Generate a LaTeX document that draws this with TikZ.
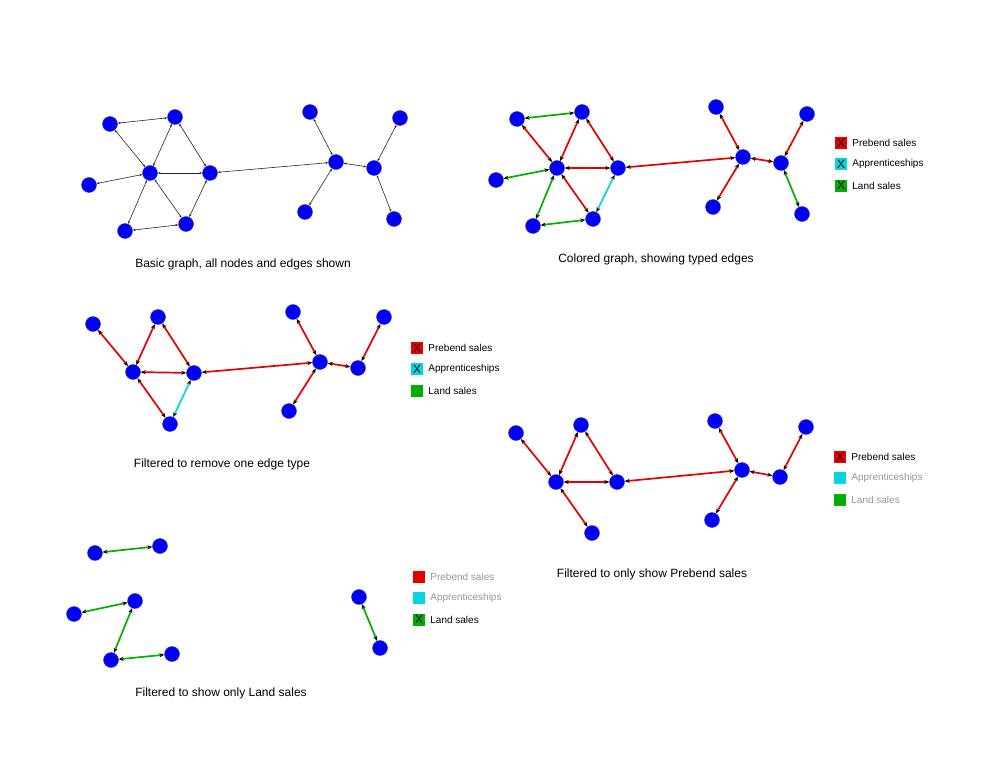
\documentclass[tikz,border=0pt]{standalone}
\usepackage{fontspec}
\setmainfont{Liberation Sans}
\usetikzlibrary{arrows.meta,positioning}
\definecolor{nodeblue}{RGB}{0,0,245}
\definecolor{prebend}{RGB}{230,0,0}
\definecolor{appren}{RGB}{0,215,225}
\definecolor{land}{RGB}{0,175,0}
\definecolor{offtext}{RGB}{150,150,150}

\tikzset{
    vertex/.style={circle, fill=nodeblue, draw=nodeblue!60!gray, line width=0.4pt, minimum size=15pt, inner sep=0pt},
    plainedge/.style={draw=black!85, line width=0.6pt, {Stealth[length=3pt,width=2.2pt]}-{Stealth[length=3pt,width=2.2pt]}},
    typed/.style={line width=1.7pt, {Stealth[length=5pt,width=4pt,color=black]}-{Stealth[length=5pt,width=4pt,color=black]}},
    prebendedge/.style={typed, draw=prebend},
    apprenedge/.style={typed, draw=appren},
    landedge/.style={typed, draw=land},
    legbox/.style={minimum size=12pt, inner sep=0pt, font=\fontsize{12}{12}\selectfont},
    legtext/.style={inner sep=0pt, font=\fontsize{10}{12}\selectfont, right=5pt of #1},
    caption/.style={font=\fontsize{12}{14}\selectfont}
}

\begin{document}
\begin{tikzpicture}[x=1pt, y=-1pt]
    \useasboundingbox (0,0) rectangle (990,765);

    % basic graph
    \node[vertex] (bA) at (110,124) {};
    \node[vertex] (bB) at (175,117) {};
    \node[vertex] (bC) at (150,173) {};
    \node[vertex] (bD) at (89,185) {};
    \node[vertex] (bE) at (210,173) {};
    \node[vertex] (bF) at (186,224) {};
    \node[vertex] (bG) at (125,231) {};
    \node[vertex] (bH) at (336,162) {};
    \node[vertex] (bI) at (310,112) {};
    \node[vertex] (bJ) at (305,212) {};
    \node[vertex] (bK) at (374,168) {};
    \node[vertex] (bL) at (400,118) {};
    \node[vertex] (bM) at (394,219) {};

    \draw[plainedge] (bA) -- (bB);
    \draw[plainedge] (bA) -- (bC);
    \draw[plainedge] (bB) -- (bC);
    \draw[plainedge] (bB) -- (bE);
    \draw[plainedge] (bC) -- (bD);
    \draw[plainedge] (bC) -- (bE);
    \draw[plainedge] (bC) -- (bG);
    \draw[plainedge] (bC) -- (bF);
    \draw[plainedge] (bE) -- (bF);
    \draw[plainedge] (bG) -- (bF);
    \draw[plainedge] (bE) -- (bH);
    \draw[plainedge] (bH) -- (bI);
    \draw[plainedge] (bH) -- (bJ);
    \draw[plainedge] (bH) -- (bK);
    \draw[plainedge] (bK) -- (bL);
    \draw[plainedge] (bK) -- (bM);

    \node[caption] (capbasic) at (243,264) {Basic graph, all nodes and edges shown};

    % colored graph
    \node[vertex] (cA) at (517,119) {};
    \node[vertex] (cB) at (582,112) {};
    \node[vertex] (cC) at (557,168) {};
    \node[vertex] (cD) at (496,180) {};
    \node[vertex] (cE) at (618,168) {};
    \node[vertex] (cF) at (593,219) {};
    \node[vertex] (cG) at (533,226) {};
    \node[vertex] (cH) at (743,157) {};
    \node[vertex] (cI) at (716,107) {};
    \node[vertex] (cJ) at (713,207) {};
    \node[vertex] (cK) at (781,163) {};
    \node[vertex] (cL) at (807,114) {};
    \node[vertex] (cM) at (802,214) {};

    \draw[landedge] (cA) -- (cB);
    \draw[prebendedge] (cA) -- (cC);
    \draw[prebendedge] (cB) -- (cC);
    \draw[prebendedge] (cB) -- (cE);
    \draw[landedge] (cC) -- (cD);
    \draw[prebendedge] (cC) -- (cE);
    \draw[landedge] (cC) -- (cG);
    \draw[prebendedge] (cC) -- (cF);
    \draw[apprenedge] (cE) -- (cF);
    \draw[landedge] (cG) -- (cF);
    \draw[prebendedge] (cE) -- (cH);
    \draw[prebendedge] (cH) -- (cI);
    \draw[prebendedge] (cH) -- (cJ);
    \draw[prebendedge] (cH) -- (cK);
    \draw[prebendedge] (cK) -- (cL);
    \draw[landedge] (cK) -- (cM);

    \node[legbox, fill=prebend] (cleg1) at (841,143) {X};
    \node[legbox, fill=appren, below=9pt of cleg1] (cleg2) {X};
    \node[legbox, fill=land, below=9pt of cleg2] (cleg3) {X};
    \node[legtext=cleg1] {Prebend sales};
    \node[legtext=cleg2] {Apprenticeships};
    \node[legtext=cleg3] {Land sales};

    \node[caption] (capcolored) at (656,259) {Colored graph, showing typed edges};

    % filtered, one edge type removed
    \node[vertex] (rA) at (93,324) {};
    \node[vertex] (rB) at (158,317) {};
    \node[vertex] (rC) at (133,372) {};
    \node[vertex] (rE) at (194,373) {};
    \node[vertex] (rF) at (170,424) {};
    \node[vertex] (rH) at (320,362) {};
    \node[vertex] (rI) at (293,312) {};
    \node[vertex] (rJ) at (289,411) {};
    \node[vertex] (rK) at (358,368) {};
    \node[vertex] (rL) at (384,317) {};

    \draw[prebendedge] (rA) -- (rC);
    \draw[prebendedge] (rB) -- (rC);
    \draw[prebendedge] (rB) -- (rE);
    \draw[prebendedge] (rC) -- (rE);
    \draw[prebendedge] (rC) -- (rF);
    \draw[apprenedge] (rE) -- (rF);
    \draw[prebendedge] (rE) -- (rH);
    \draw[prebendedge] (rH) -- (rI);
    \draw[prebendedge] (rH) -- (rJ);
    \draw[prebendedge] (rH) -- (rK);
    \draw[prebendedge] (rK) -- (rL);

    \node[legbox, fill=prebend] (rleg1) at (417,348) {X};
    \node[legbox, fill=appren, below=9pt of rleg1] (rleg2) {X};
    \node[legbox, fill=land, below=9pt of rleg2] (rleg3) {};
    \node[legtext=rleg1] {Prebend sales};
    \node[legtext=rleg2] {Apprenticeships};
    \node[legtext=rleg3] {Land sales};

    \node[caption] (capremove) at (222,464) {Filtered to remove one edge type};

    % filtered, only prebend sales
    \node[vertex] (pA) at (516,433) {};
    \node[vertex] (pB) at (581,425) {};
    \node[vertex] (pC) at (556,482) {};
    \node[vertex] (pE) at (617,482) {};
    \node[vertex] (pF) at (592,533) {};
    \node[vertex] (pH) at (742,470) {};
    \node[vertex] (pI) at (715,421) {};
    \node[vertex] (pJ) at (712,520) {};
    \node[vertex] (pK) at (780,477) {};
    \node[vertex] (pL) at (806,427) {};

    \draw[prebendedge] (pA) -- (pC);
    \draw[prebendedge] (pB) -- (pC);
    \draw[prebendedge] (pB) -- (pE);
    \draw[prebendedge] (pC) -- (pE);
    \draw[prebendedge] (pC) -- (pF);
    \draw[prebendedge] (pE) -- (pH);
    \draw[prebendedge] (pH) -- (pI);
    \draw[prebendedge] (pH) -- (pJ);
    \draw[prebendedge] (pH) -- (pK);
    \draw[prebendedge] (pK) -- (pL);

    \node[legbox, fill=prebend] (pleg1) at (840,457) {X};
    \node[legbox, fill=appren, below=9pt of pleg1] (pleg2) {};
    \node[legbox, fill=land, below=9pt of pleg2] (pleg3) {};
    \node[legtext=pleg1] {Prebend sales};
    \node[legtext=pleg2, text=offtext] {Apprenticeships};
    \node[legtext=pleg3, text=offtext] {Land sales};

    \node[caption] (capprebend) at (652,574) {Filtered to only show Prebend sales};

    % filtered, only land sales
    \node[vertex] (lA) at (95,553) {};
    \node[vertex] (lB) at (160,546) {};
    \node[vertex] (lC) at (135,601) {};
    \node[vertex] (lD) at (74,614) {};
    \node[vertex] (lG) at (111,660) {};
    \node[vertex] (lF) at (172,654) {};
    \node[vertex] (lK) at (359,597) {};
    \node[vertex] (lM) at (380,648) {};

    \draw[landedge] (lA) -- (lB);
    \draw[landedge] (lC) -- (lD);
    \draw[landedge] (lC) -- (lG);
    \draw[landedge] (lG) -- (lF);
    \draw[landedge] (lK) -- (lM);

    \node[legbox, fill=prebend] (lleg1) at (419,577) {};
    \node[legbox, fill=appren, below=9pt of lleg1] (lleg2) {};
    \node[legbox, fill=land, below=9pt of lleg2] (lleg3) {X};
    \node[legtext=lleg1, text=offtext] {Prebend sales};
    \node[legtext=lleg2, text=offtext] {Apprenticeships};
    \node[legtext=lleg3] {Land sales};

    \node[caption] (capland) at (221,693) {Filtered to show only Land sales};
\end{tikzpicture}
\end{document}
